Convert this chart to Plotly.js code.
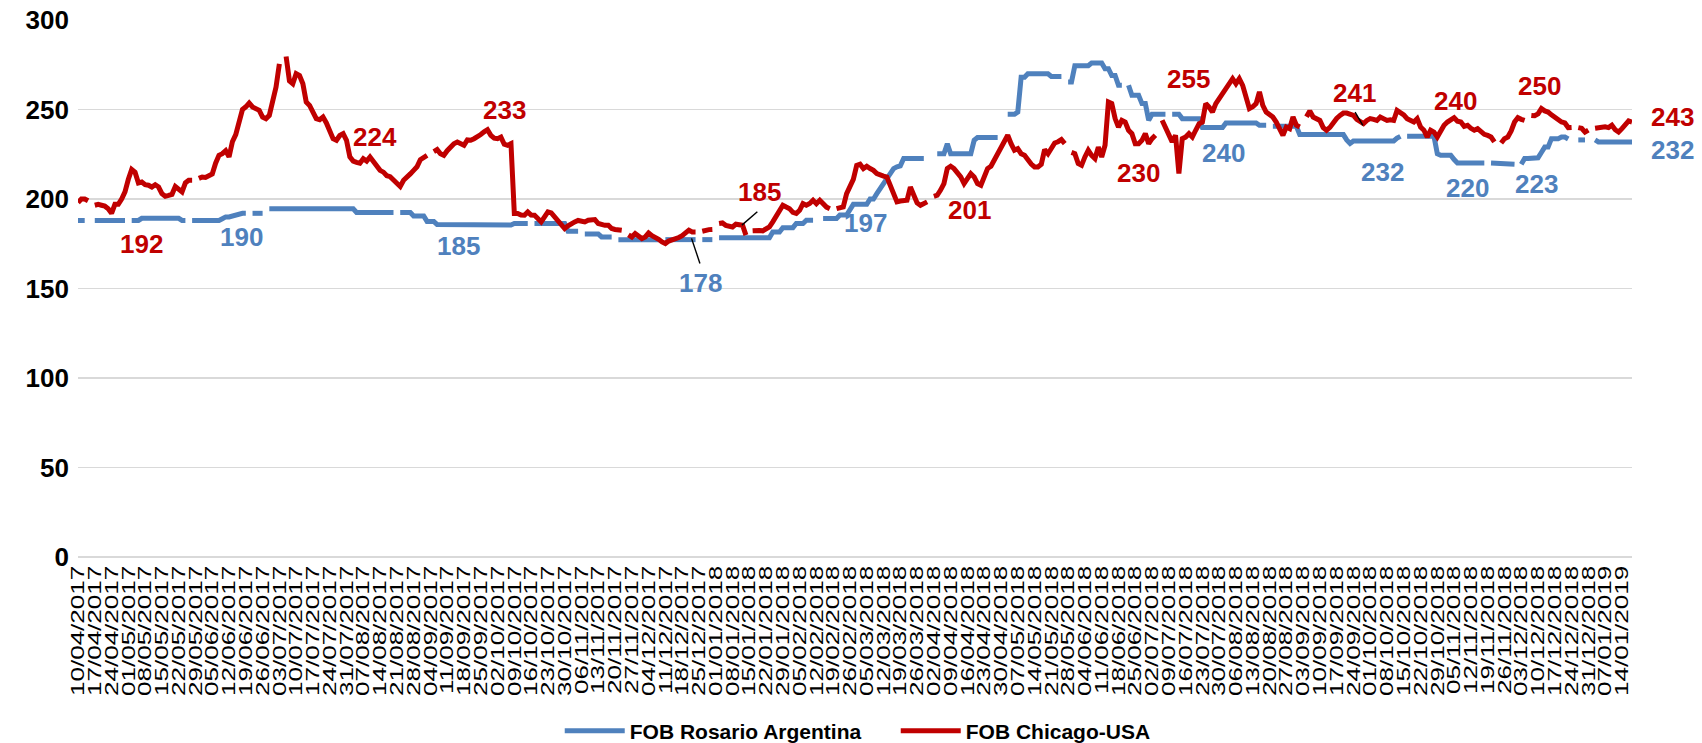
<!DOCTYPE html>
<html>
<head>
<meta charset="utf-8">
<script src="https://cdn.plot.ly/plotly-3.0.1.min.js"></script>
<style>
  html, body { margin: 0; padding: 0; background: #ffffff; }
  #chart { width: 1702px; height: 743px; }
</style>
</head>
<body>
<div id="chart"></div>
<script>
// ---------------- DATA ----------------
// Daily (business-day) series starting Monday 10/04/2017; null = no quote (holiday)
const firstDay = '2017-04-10';

const rosarioArgentina = [
  188, 188, 188, null, null, 188, 188, 188, 188, 188,
  188, 188, 188, 188, 188, null, 188, 188, 188, 189.2,
  189.2, 189.2, 189.2, 189.2, 189.2, 189.2, 189.2, 189.2, 189.2, 189.2,
  189.2, 188, 188, null, 188, 188, 188, 188, 188, 188,
  188, 188, 188, 189, 190, 190, 190.5, 191, 192, 192,
  192, null, 192, 192, 192, 192, null, 194.5, 194.5, 194.5,
  194.5, 194.5, 194.5, 194.5, 194.5, 194.5, 194.5, 194.5, 194.5, 194.5,
  194.5, 194.5, 194.5, 194.5, 194.5, 194.5, 194.5, 194.5, 194.5, 194.5,
  194.5, 194.5, 194.5, 192.5, 192.5, 192.5, 192.5, 192.5, 192.5, 192.5,
  192.5, 192.5, 192.5, 192.5, 192.5, null, 192.5, 192.5, 192.5, 192.5,
  190.5, 190.5, 190.5, 190.5, 187.5, 187.5, 187.5, 185.7, 185.7, 185.7,
  185.7, 185.7, 185.7, 185.7, 185.7, 185.7, 185.7, 185, 185, 185,
  185, 185, 185, 185, 185, 185, 185, 185, 185, 185.5,
  186.3, 186.3, 186.3, 186.3, 186.3, null, 186.3, 186.3, 186.3, 186.3,
  186.3, 186.3, 186.3, 186.3, 186.3, 186.3, 182, 182, 182, 182,
  null, 180.5, 180.5, 180.5, 180.5, 180.5, 178.8, 178.8, 178.8, 178.8,
  null, 177.3, 177.3, 177.3, 177.3, 177.3, 177.3, 177.3, 177.3, 177.3,
  177.3, 177.3, 177.3, 177.3, null, 177.3, 177.3, 177.3, 177.3, 177.3,
  177.3, 177.3, 177.3, 177.3, 177.3, null, 177.3, 177.3, 177.3, 177.3,
  null, 178.3, 178.3, 178.3, 178.3, 178.3, 178.3, 178.3, 178.3, 178.3,
  178.3, 178.3, 178.3, 178.3, 178.3, 178.3, 178.3, 181.6, 181.6, 181.6,
  184, 184, 184, 184, 186.3, 186.3, 186.3, 188.1, 188.1, 188.1,
  null, null, 189.1, 189.1, 189.1, 189.1, 189.1, 191, 191, 191,
  194, 197, 197, 197, 197, 197, 200, 200, 203, 206,
  209, 212, 214.2, 217, 218, 218.5, 222.6, 222.6, 222.6, 222.6,
  222.6, 222.6, 222.6, null, null, null, 225.3, 225.3, 225.3, 230.9,
  225.3, 225.3, 225.3, 225.3, 225.3, 225.3, 225.3, 232.8, 234.3, 234.3,
  234.3, 234.3, 234.3, 234.3, 234.3, null, null, 247.3, 247.3, 247.3,
  248.6, 268, 268, 270, 270, 270, 270, 270, 270, 270,
  268.5, 268.5, 268.5, 268.5, null, 265.3, 265.3, 274.5, 274.5, 274.5,
  274.5, 274.5, 276, 276, 276, 276, 272.8, 272.8, 269, 269,
  263.5, 263.5, null, 263.5, 257.9, 257.9, 257.9, 253.3, 253.3, 244,
  247.3, 247.3, 247.3, 247.3, 247.3, null, 247.3, 247.3, 247.3, 244.9,
  244.9, 244.9, 244.9, 244.9, 244.9, 240, 240, 240, 240, 240,
  240, 240, 242.5, 242.5, 242.5, 242.5, 242.5, 242.5, 242.5, 242.5,
  242.5, 242.5, 241.2, 241.2, 241.2, null, 240.6, 240.6, 240.6, 240.6,
  240.6, 240.6, 240.6, 240.6, 236, 236, 236, 236, 236, 236,
  236, 236, 236, 236, 236, 236, 236, 236, 233, 231,
  232.4, 232.4, 232.4, 232.4, 232.4, 232.4, 232.4, 232.4, 232.4, 232.4,
  232.4, 232.4, 232.4, 234, 235, null, 235, 235, 235, 235,
  235, 235, 235, 235, 235, 225.3, 224.4, 224.4, 224.4, 224.4,
  222, 220.1, 220.1, 220.1, 220.1, 220.1, 220.1, 220.1, 220.1, 220.1,
  null, 220.1, 220.1, 220.1, 220.1, 220.1, 220.1, 220.1, 219.4, null,
  219.4, 222.6, 222.6, 222.6, 223, 223, 226, 229, 229, 233.7,
  233.7, 233.7, 234.6, 234.6, 233.5, null, null, 233, 233, 233,
  null, null, 233, 231.9, 231.9, 231.9, 231.9, 231.9, 231.9, 231.9,
  231.9, 231.9, 231.9, 231.9
];

const chicagoUSA = [
  198, 200, 200, 199, null, 196.5, 197, 196.5, 196, 194.6,
  192, 197, 197, 200, 204, 211, 216.5, 215, 209, 209.5,
  208, 207.7, 206.7, 208, 206.7, 203, 201.5, 202, 202.6, 207,
  205.8, 204, 209, 210.5, 210.5, null, 211.5, 212.3, 212, 213,
  214, 220, 224.4, 225.3, 227, 223.5, 232, 236, 242, 250,
  251.5, 253.6, 251.4, 250.4, 249.5, 245.8, 244.9, 246.7, 255, 262.5,
  275.5, null, 279.6, 266, 264.4, 270, 269, 264.4, 254.2, 252.3,
  248.6, 244.9, 244.3, 245.8, 242.5, 238.3, 233.7, 232.8, 235.5, 236.5,
  232.8, 223.5, 221.2, 220.5, 220, 222.5, 221.2, 223.5, 220.7, 217.9,
  216, 215, 213, 212.5, 210.5, 209, 207, 210.5, 212, 214,
  216, 218, 222, 223.1, 224.4, null, 226.5, 227.6, 225.3, 224.4,
  227, 229, 230.9, 231.8, 231, 230, 233, 232.8, 233.7, 234.6,
  236, 237.5, 238.7, 235.6, 234, 233.7, 234.6, 230.6, 230, 230.9,
  191.9, 191.9, 191, 190.9, 192.8, 191, 190.9, 189.1, 187.2, 190,
  192.8, 192.2, 190, 188, 186.6, 183.5, 185, 186.3, 187.2, 188,
  187.5, 187.2, 188.1, 188.3, 188.5, 186.3, 185.5, 185.3, 185.3, 183.5,
  183, 182.9, 182.5, null, 180, 178.8, 180.7, 179, 177.9, 178.8,
  181, 179.5, 178.8, 177.5, 176, 175.1, 176.5, 177, 177.9, 178.5,
  179.5, 181, 182.6, 181.6, 181.6, null, 182, 182.6, 182.9, 183,
  null, 186.3, 186.6, 185.3, 184.8, 184.4, 185.9, 185.5, 185.3, 179.8,
  null, 182.2, 182.6, 182.4, 182.2, 183.5, 184.4, 187.2, 190, 193,
  196.5, 195.5, 194.6, 192.5, 191.9, 193.7, 197.4, 196.5, 197.5, 199.3,
  197.4, 199.3, 197.4, 195.5, 194.6, null, 194.6, 195, 195.6, 203,
  206.7, 211, 218.8, 219.4, 217, 218.3, 217, 216, 214.2, 213.2,
  212.8, 212.3, 208, 203, 198.4, 198.9, 199.2, 199.3, 206.7, 201.2,
  197.8, 196.5, 197.5, 198.4, null, 201.5, 202.1, 205, 208.6, 217,
  218.3, 217, 215.1, 212.3, 208.6, 211.4, 214.2, 212.3, 208.6, 207.7,
  212.3, 217, 218.3, 221.6, 226, 229, 232.8, 235.6, 230.9, 227.2,
  228.1, 225.3, 224.4, 221.6, 219.5, 217.9, 217.9, 219.4, 227.6, 225.3,
  229, 231.3, 232, 233.2, 231, null, 226, 225.3, 219.8, 218.8,
  223.5, 227.2, 224.4, 222.6, 229, 223.5, 230, 254.2, 253.3, 244.9,
  240.2, 243.9, 243, 238.4, 236.5, 230.9, 230.9, 232.8, 236.5, 230.9,
  233.7, 235.6, null, 244, 240.2, 235.6, 231.9, 235.6, 214.2, 233.7,
  234.6, 236.5, 234.6, 238.4, 242, 243, 253.3, 251.4, 248.6, 253.3,
  256, 258.8, 261, 264, 267.2, 264.4, 267.2, 263.5, 257.9, 250.5,
  251.5, 253.3, 259.8, 252.3, 248.6, 247, 245.8, 243, 238.4, 235.6,
  240.2, 239.3, 245.8, 241.2, 240.2, null, 246, 249.2, 245.8, 245,
  243.9, 239.9, 238.4, 240, 243, 245, 246.7, 248, 248, 247.5,
  246.7, 244.5, 243, 242.1, 243.9, 244.9, 244.5, 243.9, 245.8, 244.8,
  243.9, 244.3, 243.9, 249.5, 248.6, 247, 244.9, 244, 243, 244.9,
  240.2, 238.4, 234.6, 238.4, 237.4, 234.6, 238, 241.2, 243, 244.3,
  245.4, 243.5, 243, 240.6, 241.2, 239.5, 238.4, 239.3, 237.4, 236.1,
  235.5, 234.6, 231.9, null, 231.3, 233.7, 234.6, 238, 243, 245.4,
  244.5, 243.9, null, 246.7, 246.5, 247.6, 250.5, 249.2, 248.6, 247,
  245.8, 244, 243, 242.5, 239.9, 240, null, 239.9, 239.5, 237.4,
  238.5, null, 239.5, 239.9, 240.6, 240.3, 239.9, 241.2, 238.7, 237.4,
  239.3, 241, 243.6, 243
];

// Weekly tick labels (Mondays)
const tickLabels = [
  '10/04/2017','17/04/2017','24/04/2017','01/05/2017','08/05/2017','15/05/2017','22/05/2017','29/05/2017',
  '05/06/2017','12/06/2017','19/06/2017','26/06/2017','03/07/2017','10/07/2017','17/07/2017','24/07/2017',
  '31/07/2017','07/08/2017','14/08/2017','21/08/2017','28/08/2017','04/09/2017','11/09/2017','18/09/2017',
  '25/09/2017','02/10/2017','09/10/2017','16/10/2017','23/10/2017','30/10/2017','06/11/2017','13/11/2017',
  '20/11/2017','27/11/2017','04/12/2017','11/12/2017','18/12/2017','25/12/2017','01/01/2018','08/01/2018',
  '15/01/2018','22/01/2018','29/01/2018','05/02/2018','12/02/2018','19/02/2018','26/02/2018','05/03/2018',
  '12/03/2018','19/03/2018','26/03/2018','02/04/2018','09/04/2018','16/04/2018','23/04/2018','30/04/2018',
  '07/05/2018','14/05/2018','21/05/2018','28/05/2018','04/06/2018','11/06/2018','18/06/2018','25/06/2018',
  '02/07/2018','09/07/2018','16/07/2018','23/07/2018','30/07/2018','06/08/2018','13/08/2018','20/08/2018',
  '27/08/2018','03/09/2018','10/09/2018','17/09/2018','24/09/2018','01/10/2018','08/10/2018','15/10/2018',
  '22/10/2018','29/10/2018','05/11/2018','12/11/2018','19/11/2018','26/11/2018','03/12/2018','10/12/2018',
  '17/12/2018','24/12/2018','31/12/2018','07/01/2019','14/01/2019'
];

const seriesNames = ['FOB Rosario Argentina', 'FOB Chicago-USA'];

// Data labels shown on the chart: text, series (0 = Rosario, 1 = Chicago)
const labelTexts  = ['192','190','224','185','233','185','178','197','201','230','255','240','241','232','240','220','250','223','243','232'];
const labelSeries = [1,0,1,0,1,1,0,0,1,1,1,0,1,0,1,0,1,0,1,0];

// ---------------- BUILD ----------------
if (rosarioArgentina.length !== chicagoUSA.length) {
  throw new Error('length mismatch ' + rosarioArgentina.length + ' vs ' + chicagoUSA.length);
}

function pad(n) { return (n < 10 ? '0' : '') + n; }
function businessDays(startISO, count) {
  const out = [];
  const d = new Date(startISO + 'T00:00:00Z');
  while (out.length < count) {
    const wd = d.getUTCDay();
    if (wd !== 0 && wd !== 6) {
      out.push(pad(d.getUTCDate()) + '/' + pad(d.getUTCMonth() + 1) + '/' + d.getUTCFullYear());
    }
    d.setUTCDate(d.getUTCDate() + 1);
  }
  return out;
}
const categories = businessDays(firstDay, rosarioArgentina.length);

const BLUE = '#4F81BD';
const RED = '#C00000';
const seriesColors = [BLUE, RED];

const traces = [
  {
    type: 'scatter', mode: 'lines', name: seriesNames[0],
    x: categories, y: rosarioArgentina,
    line: { color: BLUE, width: 5 }, connectgaps: false, hoverinfo: 'skip'
  },
  {
    type: 'scatter', mode: 'lines', name: seriesNames[1],
    x: categories, y: chicagoUSA,
    line: { color: RED, width: 5 }, connectgaps: false, hoverinfo: 'skip'
  }
];

// label placement (category index / value, or 'R' = right of the plot)
const labelPos = [
  [18.8, 174.7], [48.8, 178.6], [88.5, 234.4], [113.5, 174], [127.1, 249.5],
  [202.9, 203.9], [185.6, 153], [234.5, 186.4], [265.5, 193.7], [315.9, 214.5],
  [331, 266.8], [341.2, 225.5], [380.2, 259], [388.6, 215], [410.3, 255],
  [414.1, 206.1], [435.3, 263.4], [434.6, 208.2], ['R', 245.6], ['R', 227.3]
];

const annotations = labelTexts.map(function (t, k) {
  const p = labelPos[k];
  const right = p[0] === 'R';
  return {
    text: t,
    xref: right ? 'paper' : 'x', yref: 'y',
    x: right ? 1.026 : p[0], y: p[1],
    xanchor: 'center', yanchor: 'middle',
    showarrow: false,
    font: { family: 'Liberation Sans, Arial, sans-serif', size: 26, weight: 'bold', color: seriesColors[labelSeries[k]] }
  };
});

const leaders = [
  [202.4, 192.9, 197.8, 185.4],
  [182.8, 178.0, 185.3, 164],
  [380.5, 248.5, 382.8, 241.1]
].map(function (s) {
  return { type: 'line', xref: 'x', yref: 'y', x0: s[0], y0: s[1], x1: s[2], y1: s[3],
           line: { color: '#000000', width: 1.4 } };
});

const layout = {
  width: 1702, height: 743,
  margin: { l: 78, r: 70, t: 20, b: 186, pad: 0, autoexpand: false },
  paper_bgcolor: '#ffffff', plot_bgcolor: '#ffffff',
  showlegend: true,
  hovermode: false,
  xaxis: {
    type: 'category',
    range: [0, categories.length - 1],
    tickmode: 'array', tickvals: tickLabels, ticktext: tickLabels,
    tickangle: -90,
    tickfont: { family: 'Liberation Sans, Arial, sans-serif', size: 19, color: '#000000' },
    showgrid: false, zeroline: false, showline: false, ticks: '',
    ticklabelstandoff: 4,
    automargin: false, fixedrange: true
  },
  yaxis: {
    range: [0, 300], tick0: 0, dtick: 50,
    tickfont: { family: 'Liberation Sans, Arial, sans-serif', size: 26, weight: 'bold', color: '#000000' },
    showgrid: true, gridcolor: '#D9D9D9', gridwidth: 1.5,
    zeroline: true, zerolinecolor: '#D9D9D9', zerolinewidth: 1.5,
    showline: false, ticks: '', ticklabelstandoff: 8,
    automargin: false, fixedrange: true
  },
  legend: {
    orientation: 'h', x: 0.31, xanchor: 'left', y: -0.324, yanchor: 'middle',
    font: { family: 'Liberation Sans, Arial, sans-serif', size: 21, weight: 'bold', color: '#000000' },
    bgcolor: 'rgba(0,0,0,0)', itemwidth: 60, tracegroupgap: 0,
    entrywidth: 261, entrywidthmode: 'pixels'
  },
  annotations: annotations,
  shapes: leaders
};

// the source chart draws its rotated date labels elongated along the text direction
const X_LABEL_STRETCH = 1.37;

Plotly.newPlot('chart', traces, layout, { displayModeBar: false, staticPlot: true }).then(function (gd) {
  gd.querySelectorAll('.xtick text').forEach(function (t) {
    const x = parseFloat(t.getAttribute('x')) || 0;
    const tr = t.getAttribute('transform') || '';
    t.setAttribute('transform', tr + ' translate(' + x + ',0) scale(' + X_LABEL_STRETCH + ',1) translate(' + (-x) + ',0)');
  });
});
</script>
</body>
</html>
